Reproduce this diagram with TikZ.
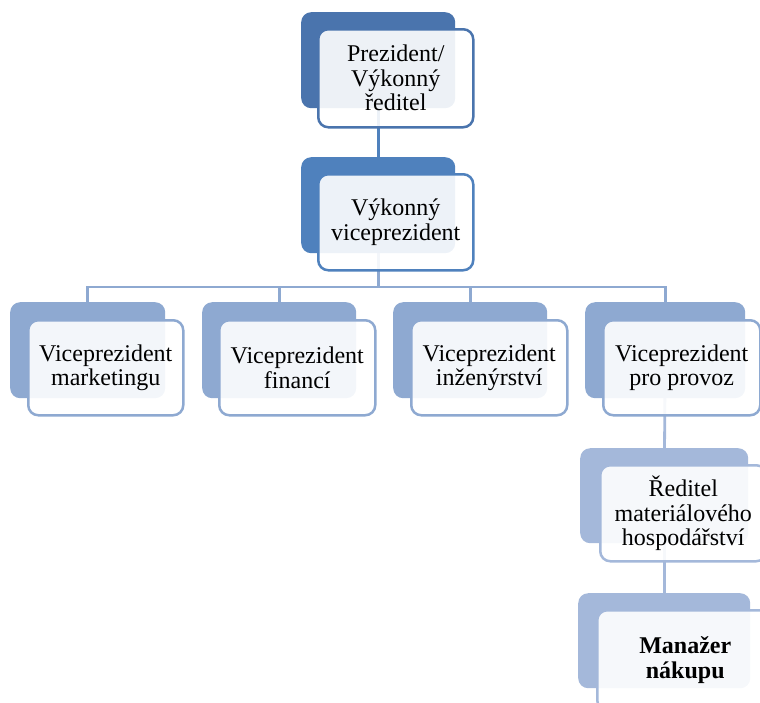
\documentclass[tikz,border=0pt]{standalone}
\usepackage{fontspec}
\setmainfont{Liberation Serif}
\usetikzlibrary{backgrounds}
\definecolor{cA}{HTML}{4A74AD}
\definecolor{cB}{HTML}{4F81BD}
\definecolor{cC}{HTML}{8EA9D1}
\definecolor{cD}{HTML}{A4B8DA}
\begin{document}
\begin{tikzpicture}[x=1pt,y=-1pt,
  backbox/.style={rectangle, rounded corners=10pt, fill=#1, draw=none, inner sep=0pt, anchor=north west},
  frontbox/.style={rectangle, rounded corners=10pt, draw=#1, line width=2.5pt, fill=white, fill opacity=0.9, text opacity=1, inner sep=0pt, anchor=north west, align=center, font=\fontsize{24}{24.5}\selectfont},
  conn/.style={draw=#1, line width=2.8pt}]
\useasboundingbox (0,0) rectangle (760,702);
\clip (0,0) rectangle (760,702);

% back boxes
\node[backbox=cA, minimum width=154pt, minimum height=96pt] (b1) at (301,12) {};
\node[backbox=cB, minimum width=154pt, minimum height=96pt] (b2) at (301,157) {};
\node[backbox=cC, minimum width=155pt, minimum height=96pt] (r1) at (10,302) {};
\node[backbox=cC, minimum width=154pt, minimum height=96pt] (r2) at (202,302) {};
\node[backbox=cC, minimum width=154pt, minimum height=96pt] (r3) at (393,302) {};
\node[backbox=cC, minimum width=160pt, minimum height=96pt] (r4) at (585,302) {};
\node[backbox=cD, minimum width=168pt, minimum height=95pt] (d1) at (580,448) {};
\node[backbox=cD, minimum width=172pt, minimum height=95pt] (d2) at (578,593) {};

% connectors
\coordinate (bus) at (0,287);
\begin{scope}[on background layer]
  \draw[conn=cB] (b1.center) -- (b2.center);
  \draw[conn=cC] (b2.center) -- (b2.center |- bus);
  \draw[conn=cC] (r1.center) -- (r1.center |- bus) -| (r4.center);
  \draw[conn=cC] (r2.center) -- (r2.center |- bus);
  \draw[conn=cC] (r3.center) -- (r3.center |- bus);
  \draw[conn=cD] (r4.center) -- (d1.center);
  \draw[conn=cD] (d1.center) -- (d2.center);
\end{scope}

% front boxes
\node[frontbox=cA, minimum width=155pt, minimum height=98pt] (f1) at (317,28) {Prezident/\\Výkonný\\ředitel};
\node[frontbox=cB, minimum width=155pt, minimum height=96pt] (f2) at (317,173) {Výkonný\\viceprezident};
\node[frontbox=cC, minimum width=155pt, minimum height=95pt] (g1) at (27,319) {Viceprezident\\marketingu};
\node[frontbox=cC, minimum width=156pt, minimum height=95pt] (g2) at (218,319) {Viceprezident\\financí};
\node[frontbox=cC, minimum width=156pt, minimum height=95pt] (g3) at (410,319) {Viceprezident\\inženýrství};
\node[frontbox=cC, minimum width=157pt, minimum height=95pt] (g4) at (602,319) {Viceprezident\\pro provoz};
\node[frontbox=cD, minimum width=166pt, minimum height=96pt] (h1) at (599,464) {Ředitel\\materiálového\\hospodářství};
\node[frontbox=cD, minimum width=176pt, minimum height=100pt, font=\fontsize{24}{24.5}\selectfont\bfseries] (h2) at (596,609) {Manažer\\nákupu};
\end{tikzpicture}
\end{document}
